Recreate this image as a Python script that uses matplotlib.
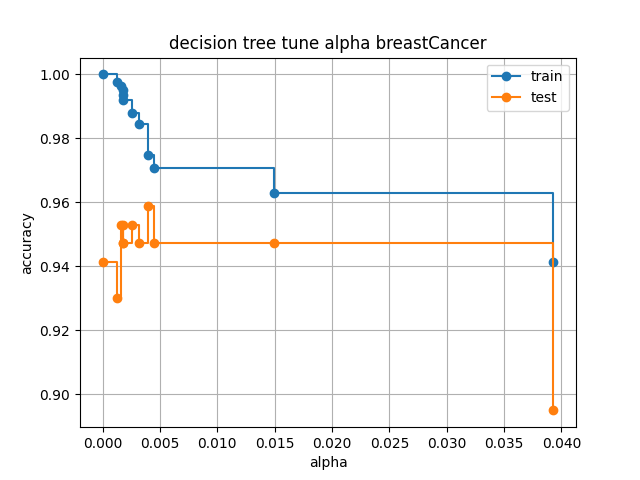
import matplotlib
matplotlib.use("Agg")
import matplotlib.pyplot as plt

# ccp alpha values and accuracies
ccp_alphas = [0.0, 0.00122, 0.0016, 0.0018, 0.0018, 0.0018, 0.00253, 0.0032,
              0.0040, 0.00445, 0.0149, 0.0393]
train_scores = [1.0, 0.9977, 0.9965, 0.995, 0.9937, 0.992, 0.988, 0.9845,
                0.9748, 0.9707, 0.963, 0.9415]
test_scores = [0.9415, 0.930, 0.953, 0.9474, 0.953, 0.9474, 0.953, 0.9474,
               0.959, 0.9474, 0.9474, 0.895]

fig, ax = plt.subplots(figsize=(6.4, 4.8), dpi=100)
ax.plot(ccp_alphas, train_scores, marker="o", label="train", drawstyle="steps-post")
ax.plot(ccp_alphas, test_scores, marker="o", label="test", drawstyle="steps-post")
ax.set_title("decision tree tune alpha breastCancer")
ax.set_xlabel("alpha")
ax.set_ylabel("accuracy")
ax.legend()
ax.grid(True)
plt.savefig("out.png", dpi=100)
plt.close()
